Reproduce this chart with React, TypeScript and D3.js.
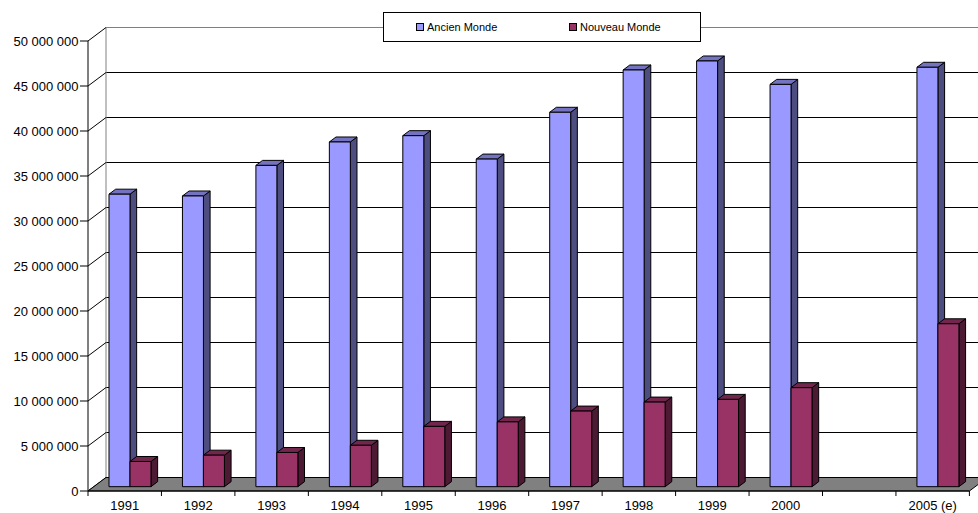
import React from "react";
import * as d3 from "d3";

const categories = ["1991", "1992", "1993", "1994", "1995", "1996", "1997", "1998", "1999", "2000", "", "2005 (e)"];
const ancienMonde: (number | null)[] = [32.5e6, 32.3e6, 35.7e6, 38.3e6, 39.0e6, 36.4e6, 41.6e6, 46.3e6, 47.3e6, 44.7e6, null, 46.6e6];
const nouveauMonde: (number | null)[] = [2.8e6, 3.5e6, 3.8e6, 4.6e6, 6.7e6, 7.2e6, 8.4e6, 9.4e6, 9.7e6, 11.0e6, null, 18.1e6];
const yTicks = [0, 5e6, 10e6, 15e6, 20e6, 25e6, 30e6, 35e6, 40e6, 45e6, 50e6];
const seriesNames = ["Ancien Monde", "Nouveau Monde"];

const W = 978, H = 513;
const DX = 18, DY = -13.5;
const F1 = 0.32, F2 = 0.69;
const FONT = "'Liberation Sans', Arial, sans-serif";

const colors = [
  { front: "#9999FF", top: "#7373BF", side: "#4D4D80" },
  { front: "#993366", top: "#73264D", side: "#4D1A33" },
];

const fmt = (v: number) => {
  if (v === 0) return "0";
  return d3.format(",")(v).replace(/,/g, " ");
};

export default function App() {
  const x = d3.scaleBand<string>().domain(categories.map((c, i) => String(i))).range([88, 969.4]).padding(0);
  const y = d3.scaleLinear().domain([0, 50e6]).range([491, 41]);
  const catW = x.bandwidth();
  const barW = catW / 3.5;
  const y0 = y(0);
  const xL = 88, xR = 969.4;

  const pt = (px: number, py: number, f: number) => `${px + DX * f},${py + DY * f}`;

  const bars: React.ReactNode[] = [];
  categories.forEach((c, i) => {
    const center = (x(String(i)) as number) + catW / 2;
    [ancienMonde, nouveauMonde].forEach((series, s) => {
      const v = series[i];
      if (v == null) return;
      const bx0 = center - barW + s * barW - 0.5;
      const bx1 = bx0 + barW;
      const yt = y(v);
      const col = colors[s];
      bars.push(
        <g key={`b${i}-${s}`} stroke="#000" strokeWidth={1} strokeLinejoin="round">
          <polygon fill={col.side} points={[pt(bx1, y0, F1), pt(bx1, y0, F2), pt(bx1, yt, F2), pt(bx1, yt, F1)].join(" ")} />
          <polygon fill={col.top} points={[pt(bx0, yt, F1), pt(bx1, yt, F1), pt(bx1, yt, F2), pt(bx0, yt, F2)].join(" ")} />
          <polygon fill={col.front} points={[pt(bx0, y0, F1), pt(bx1, y0, F1), pt(bx1, yt, F1), pt(bx0, yt, F1)].join(" ")} />
        </g>
      );
    });
  });

  return (
    <svg width={W} height={H} style={{ position: "absolute", left: 0, top: 0 }} fontFamily={FONT}>
      <rect x={0} y={0} width={W} height={H} fill="#fff" />
      {/* back wall gridlines */}
      {yTicks.map((t) => (
        <line key={`g${t}`} x1={xL + DX} x2={W + 20} y1={y(t) + DY} y2={y(t) + DY}
          stroke={t === 50e6 ? "#808080" : "#000"} strokeWidth={1} />
      ))}
      {/* back wall left edge */}
      <line x1={xL + DX} x2={xL + DX} y1={y(50e6) + DY} y2={y0 + DY} stroke="#808080" strokeWidth={1} />
      {/* side wall diagonals */}
      {yTicks.map((t) => (
        <line key={`d${t}`} x1={xL} y1={y(t)} x2={xL + DX} y2={y(t) + DY} stroke="#000" strokeWidth={1} />
      ))}
      {/* floor */}
      <polygon points={[pt(xL, y0, 0), pt(xL, y0, 1), pt(xR, y0, 1), pt(xR, y0, 0)].join(" ")}
        fill="#808080" stroke="#000" strokeWidth={1} />
      {/* bars */}
      {bars}
      {/* value axis */}
      <line x1={xL} x2={xL} y1={y(50e6)} y2={y0} stroke="#000" strokeWidth={1} />
      {yTicks.map((t) => (
        <g key={`t${t}`}>
          <line x1={xL - 8} x2={xL} y1={y(t)} y2={y(t)} stroke="#000" strokeWidth={1} />
          <text x={78.5} y={y(t) + 4.5} textAnchor="end" fontSize={13} fill="#000">{fmt(t)}</text>
        </g>
      ))}
      {/* category axis */}
      <line x1={xL} x2={xR} y1={y0} y2={y0} stroke="#000" strokeWidth={1} />
      {categories.map((c, i) => (
        <line key={`ct${i}`} x1={(x(String(i)) as number)} x2={(x(String(i)) as number)} y1={y0} y2={y0 + 5} stroke="#000" strokeWidth={1} />
      ))}
      <line x1={xR} x2={xR} y1={y0} y2={y0 + 5} stroke="#000" strokeWidth={1} />
      {categories.map((c, i) => (
        <text key={`cl${i}`} x={(x(String(i)) as number) + catW / 2} y={510} textAnchor="middle" fontSize={13} fill="#000">{c}</text>
      ))}
      {/* legend */}
      <rect x={383.5} y={12.5} width={317} height={29} fill="#fff" stroke="#000" strokeWidth={1} />
      {seriesNames.map((n, s) => {
        const lx = s === 0 ? 416 : 569;
        return (
          <g key={`l${s}`}>
            <rect x={lx + 0.5} y={23.5} width={7} height={7} fill={colors[s].front} stroke="#000" strokeWidth={1} />
            <text x={lx + 11} y={31} fontSize={11} fill="#000">{n}</text>
          </g>
        );
      })}
    </svg>
  );
}
